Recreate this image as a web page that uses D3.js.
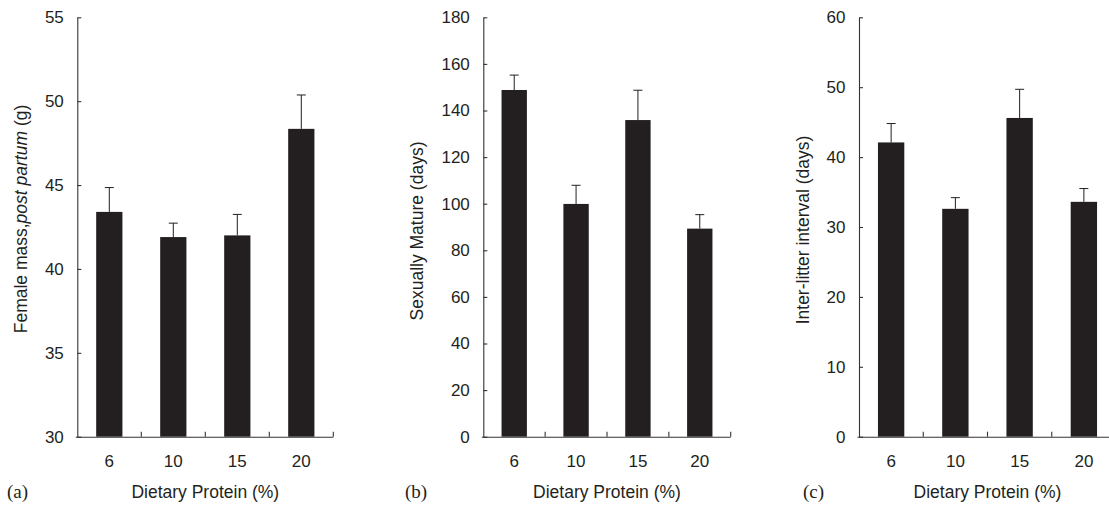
<!DOCTYPE html>
<html>
<head>
<meta charset="utf-8">
<script src="https://cdn.jsdelivr.net/npm/d3@7"></script>
<style>
  body { margin: 0; background: #fff; }
  svg { display: block; font-family: "Liberation Sans", Arial, sans-serif; }
  .axis path, .axis line { stroke: #333; stroke-width: 1.1; }
  .axis text { fill: #231f20; font-size: 17px; font-family: "Liberation Sans", Arial, sans-serif; }
</style>
</head>
<body>
<div id="chart"></div>
<script>
// dietary protein groups (%)
var protein = ["6", "10", "15", "20"];

// (a) female mass post partum (g)
var massMean = [43.4, 41.9, 42.0, 48.35];
var massErr = [1.45, 0.83, 1.25, 2.02];
var massTicks = [30, 35, 40, 45, 50, 55];

// (b) age sexually mature (days)
var matureMean = [148.8, 99.9, 135.9, 89.3];
var matureErr = [6.4, 8.0, 12.8, 6.0];
var matureTicks = [0, 20, 40, 60, 80, 100, 120, 140, 160, 180];

// (c) inter-litter interval (days)
var intervalMean = [42.1, 32.6, 45.6, 33.6];
var intervalErr = [2.7, 1.6, 4.1, 1.9];
var intervalTicks = [0, 10, 20, 30, 40, 50, 60];

var W = 1109, H = 506,
	plotTop = 17.3, plotBottom = 436.7,
	ink = "#231f20";

var svg = d3.select("#chart")
	.append("svg")
	.attr("width", W)
	.attr("height", H);

var panels = [
	{ letter: "(a)", x0: 77.3, x1: 333.3, mean: massMean, err: massErr, ticks: massTicks,
	  label: ["Female mass,", "post partum", " (g)"], labelDx: 56.5, labelY: 219, letterX: 7 },
	{ letter: "(b)", x0: 483.3, x1: 730.7, mean: matureMean, err: matureErr, ticks: matureTicks,
	  label: ["Sexually Mature (days)"], labelDx: 66.5, labelY: 231, letterX: 405 },
	{ letter: "(c)", x0: 859, x1: 1116, mean: intervalMean, err: intervalErr, ticks: intervalTicks,
	  label: ["Inter-litter interval (days)"], labelDx: 56, labelY: 230, letterX: 803 }
];

panels.forEach(function(p) {
	var g = svg.append("g");

	var x = d3.scaleBand()
		.domain(protein)
		.range([p.x0, p.x1])
		.paddingInner(0.59)
		.paddingOuter(0.295);

	var y = d3.scaleLinear()
		.domain([p.ticks[0], p.ticks[p.ticks.length - 1]])
		.range([plotBottom, plotTop]);

	var rows = protein.map(function(d, i) {
		return { cat: d, mean: p.mean[i], err: p.err[i] };
	});

	// error bars (drawn first so the bar covers the lower part)
	var eb = g.selectAll(".err")
		.data(rows)
		.enter()
		.append("g")
		.attr("class", "err")
		.attr("stroke", ink)
		.attr("stroke-width", 1);

	eb.append("line")
		.attr("x1", function(d) { return x(d.cat) + x.bandwidth() / 2; })
		.attr("x2", function(d) { return x(d.cat) + x.bandwidth() / 2; })
		.attr("y1", function(d) { return y(d.mean); })
		.attr("y2", function(d) { return y(d.mean + d.err); });

	eb.append("line")
		.attr("x1", function(d) { return x(d.cat) + x.bandwidth() / 2 - 4.5; })
		.attr("x2", function(d) { return x(d.cat) + x.bandwidth() / 2 + 4.5; })
		.attr("y1", function(d) { return y(d.mean + d.err); })
		.attr("y2", function(d) { return y(d.mean + d.err); });

	g.selectAll(".bar")
		.data(rows)
		.enter()
		.append("rect")
		.attr("class", "bar")
		.attr("x", function(d) { return x(d.cat); })
		.attr("width", x.bandwidth())
		.attr("y", function(d) { return y(d.mean); })
		.attr("height", function(d) { return plotBottom - y(d.mean); })
		.attr("fill", ink);

	// y axis, ticks pointing inward
	g.append("g")
		.attr("class", "axis")
		.attr("transform", "translate(" + p.x0 + ",0)")
		.call(d3.axisLeft(y)
			.tickValues(p.ticks)
			.tickFormat(d3.format("d"))
			.tickSizeInner(-4)
			.tickSizeOuter(0)
			.tickPadding(13.5));

	// x axis: labels at band centres, ticks at band edges
	var xa = g.append("g")
		.attr("class", "axis")
		.attr("transform", "translate(0," + plotBottom + ")")
		.call(d3.axisBottom(x)
			.tickSize(0)
			.tickPadding(18));
	xa.select(".domain").attr("d", "M" + (p.x0 - 1.5) + ",0.5H" + p.x1);

	xa.selectAll(".edge")
		.data(protein)
		.enter()
		.append("line")
		.attr("class", "edge")
		.attr("x1", function(d) { return x(d) + x.bandwidth() + x.step() * 0.295; })
		.attr("x2", function(d) { return x(d) + x.bandwidth() + x.step() * 0.295; })
		.attr("y1", 0)
		.attr("y2", -5);

	// axis titles
	g.append("text")
		.attr("x", (p.x0 + p.x1) / 2)
		.attr("y", 498)
		.attr("text-anchor", "middle")
		.attr("font-size", 17.5)
		.attr("fill", ink)
		.text("Dietary Protein (%)");

	var yl = g.append("text")
		.attr("transform", "translate(" + (p.x0 - p.labelDx) + "," + p.labelY + ") rotate(-90)")
		.attr("text-anchor", "middle")
		.attr("dy", "0.35em")
		.attr("font-size", 17.5)
		.attr("fill", ink);
	p.label.forEach(function(t, i) {
		yl.append("tspan")
			.attr("font-style", i === 1 ? "italic" : "normal")
			.text(t);
	});

	g.append("text")
		.attr("x", p.letterX)
		.attr("y", 498)
		.attr("font-family", "'Liberation Serif', 'Times New Roman', serif")
		.attr("font-size", 19)
		.attr("fill", ink)
		.text(p.letter);
});
</script>
</body>
</html>
